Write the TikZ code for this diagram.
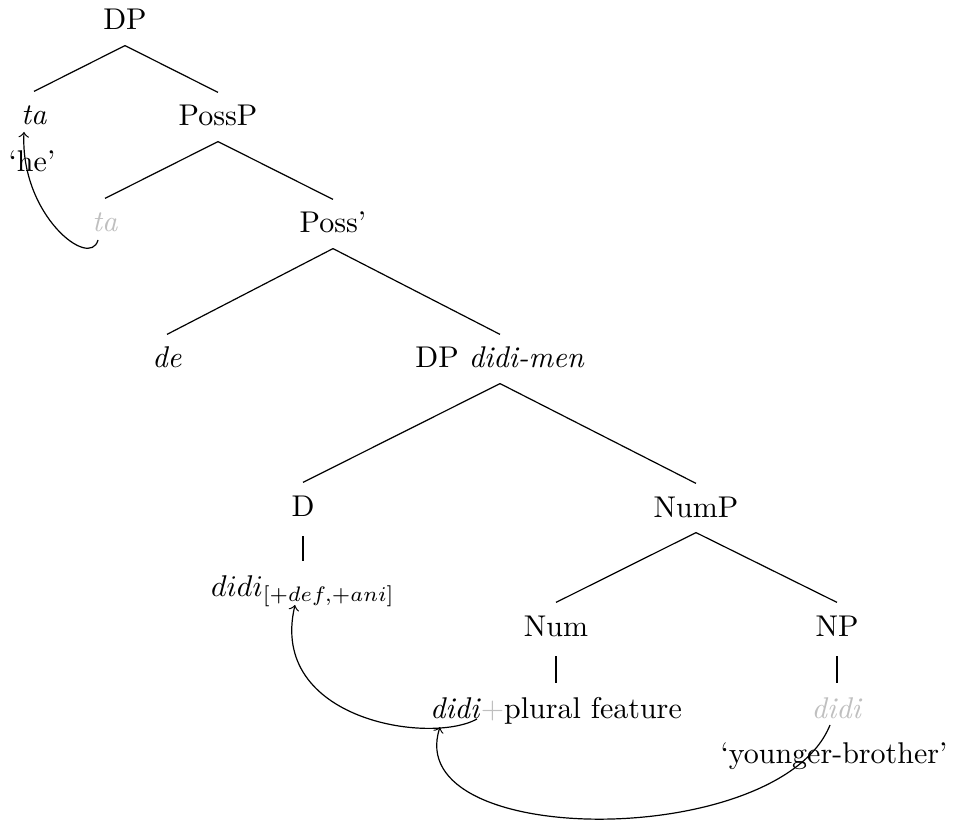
\documentclass[tikz,border=0pt]{standalone}
\usetikzlibrary{calc}
\definecolor{tracegray}{gray}{0.75}
\begin{document}
\begin{tikzpicture}[x=0.3333pt,y=-0.3333pt,
  lab/.style={anchor=base, text height=8pt, text depth=2pt, inner xsep=2pt, inner ysep=3pt},
  branch/.style={line width=0.4pt},
  unary/.style={line width=0.4pt, shorten <=1.5pt, shorten >=0.4pt},
  mvarrow/.style={->, line width=0.4pt},
  trace/.style={text=tracegray}]
\useasboundingbox (0,0) rectangle (961,825);
% nodes
\node[lab] (DP0) at (125,30) {DP};
\node[lab] (ta) at (34,125) {\textit{ta}};
\node[lab] (he) at (32,172) {`he'};
\node[lab] (PossP) at (218,126) {PossP};
\node[lab,trace] (tag) at (105,232) {\textit{ta}};
\node[lab] (Possbar) at (333,233) {Poss'};
\node[lab] (de) at (167,368) {\textit{de}};
\node[lab] (DP1) at (500,368) {DP \textit{didi-men}};
\node[lab] (D) at (303,516) {D};
\node[lab] (NumP) at (696,517) {NumP};
\node[lab] (didiD) at (303,596) {$didi_{[+def,+ani]}$};
\node[lab] (Num) at (556,636) {Num};
\node[lab] (NP) at (837,636) {NP};
\node[lab] (didiNum) at (556,718) {\textit{didi}\textcolor{tracegray}{+}plural feature};
\node[lab,trace] (didiNP) at (837,718) {\textit{didi}};
\node[lab] (yb) at (834,763) {`younger-brother'};
% branches
\draw[branch] (DP0.south) -- (ta.north);
\draw[branch] (DP0.south) -- (PossP.north);
\draw[branch] (PossP.south) -- (tag.north);
\draw[branch] (PossP.south) -- (Possbar.north);
\draw[branch] (Possbar.south) -- (de.north);
\draw[branch] (Possbar.south) -- (DP1.north);
\draw[branch] (DP1.south) -- (D.north);
\draw[branch] (DP1.south) -- (NumP.north);
\draw[branch] (NumP.south) -- (Num.north);
\draw[branch] (NumP.south) -- (NP.north);
\draw[unary] (D.south) -- (didiD.north);
\draw[unary] (Num.south) -- (didiNum.north);
\draw[unary] (NP.south) -- (didiNP.north);
% movement arrows
\coordinate (a1s) at ([shift={(-7,8)}]tag.base);
\coordinate (a1e) at ([shift={(-10,7)}]ta.base);
\draw[mvarrow] (a1s) .. controls +(-8,30) and +(-4,83) .. (a1e);
\coordinate (a2s) at ([shift={(-79,1)}]didiNum.base);
\coordinate (a2e) at ([shift={(-8,9)}]didiD.base);
\draw[mvarrow] (a2s) .. controls +(-47,26) and +(-27,115) .. (a2e);
\coordinate (a3s) at ([shift={(-7,7)}]didiNP.base);
\coordinate (a3e) at ([shift={(-116,9)}]didiNum.base);
\draw[mvarrow] (a3s) .. controls +(-50,125) and +(-40,123) .. (a3e);
\end{tikzpicture}
\end{document}
